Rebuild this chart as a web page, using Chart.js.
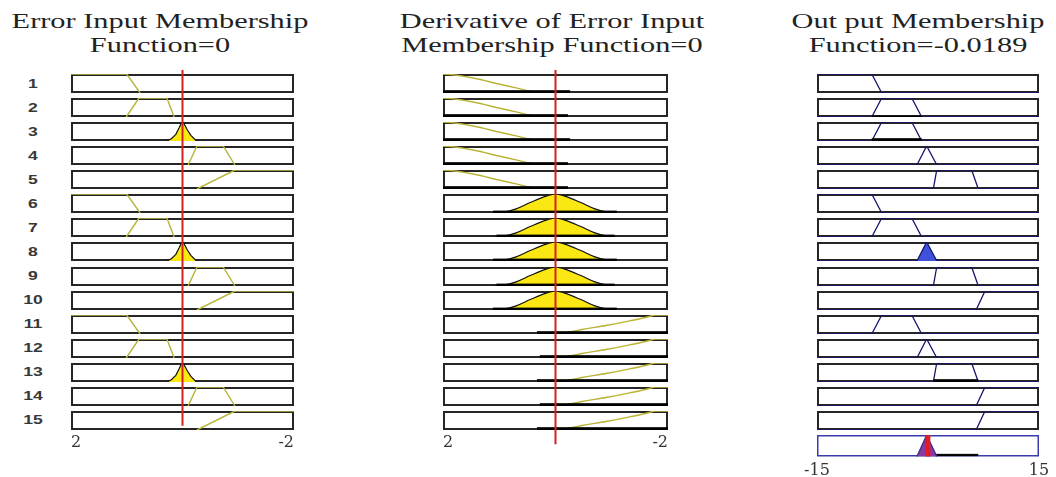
<!DOCTYPE html>
<html>
<head>
<meta charset="utf-8">
<script src="https://cdn.jsdelivr.net/npm/chart.js@4.4.0/dist/chart.umd.min.js"></script>
<style>
  body { margin: 0; background: #fff; width: 1056px; height: 477px; position: relative; overflow: hidden; }
  canvas { position: absolute; }
  .title { position: absolute; width: 400px; text-align: center; font-family: "Liberation Serif", serif;
           font-size: 22px; line-height: 24px; color: #222; transform-origin: center top; transform: scaleX(1.38); }
  .rowlab { position: absolute; width: 30px; text-align: center; font-family: "Liberation Sans", sans-serif;
            font-size: 13px; font-weight: bold; line-height: 14px; color: #383838; transform: scaleX(1.35); }
</style>
</head>
<body>
<div class="title" style="left:-40px;top:9px">Error Input Membership<br>Function=0</div>
<div class="title" style="left:352px;top:9px">Derivative of Error Input<br>Membership Function=0</div>
<div class="title" style="left:718px;top:9px">Out put Membership<br>Function=-0.0189</div>
<script>
// rule numbers
const ruleLabels = ['1','2','3','4','5','6','7','8','9','10','11','12','13','14','15'];

// input 1: error (axis runs 2 .. -2), points are [value, membership]
const errTicks = [2, -2];
const errPB = [[2, 1], [1.0, 1], [0.76, 0]];
const errPS = [[1.01, 0], [0.78, 1], [0.28, 1], [0.15, 0]];
const errZ  = [[0.28, 0], [0.2, 0.12], [0.12, 0.35], [0.06, 0.7], [0.02, 0.95], [-0.02, 0.95], [-0.08, 0.62], [-0.15, 0.3], [-0.25, 0]];
const errNS = [[-0.1, 0], [-0.26, 1], [-0.73, 1], [-0.94, 0]];
const errNB = [[-0.26, 0], [-0.94, 1], [-2, 1]];
const errInput = 0;

// input 2: derivative of error
const dErrTicks = [2, -2];
const dErrP = [[2, 1], [1.82, 0.96], [1.4, 0.75], [1.05, 0.5], [0.7, 0.27], [0.45, 0.1], [0.22, 0]];
const dErrZ = [[1.11, 0], [0.9, 0.06], [0.7, 0.22], [0.45, 0.55], [0.15, 0.9], [0, 1], [-0.15, 0.9], [-0.45, 0.55], [-0.7, 0.22], [-0.9, 0.06], [-1.09, 0]];
const dErrN = [[-0.1, 0.02], [-0.5, 0.25], [-0.9, 0.45], [-1.3, 0.68], [-1.6, 0.87], [-1.8, 1], [-2, 1]];
// low clipped areas along the bottom of each rule: [from, to, height]
const dErrBars = [[2, -0.26, 0.12], [2, -0.22, 0.12], [2, -0.26, 0.12], [2, -0.22, 0.12], [2, -0.22, 0.12],
                  [1.11, -1.09, 0.1], [1.05, -1.05, 0.1], [1.11, -1.09, 0.1], [1.05, -1.05, 0.1], [1.11, -1.09, 0.1],
                  [0.33, -2, 0.12], [0.28, -2, 0.12], [0.33, -2, 0.12], [0.28, -2, 0.12], [0.33, -2, 0.12]];
const dErrInput = 0;

// output
const outTicks = [-15, 15];
const outNB = [[-15, 1], [-7.6, 1], [-6.25, 0], [15, 0]];
const outNS = [[-15, 0], [-7.6, 0], [-6.25, 1], [-2.2, 1], [-0.85, 0], [15, 0]];
const outZ  = [[-15, 0], [-1.5, 0], [-0.18, 1], [1.2, 0], [15, 0]];
const outPS = [[-15, 0], [0.72, 0], [1.18, 1], [5.9, 1], [6.8, 0], [15, 0]];
const outPB = [[-15, 0], [6.5, 0], [7.7, 1], [15, 1]];
const outBars = [null, [-7.6, -0.85, 0.05], [-7.6, -0.85, 0.12], null, null, null, null, null, null, null,
                 null, null, [0.72, 6.8, 0.12], null, null];
const aggShape = [[-1.5, 0], [-0.18, 1], [1.2, 0]];
const aggTail = [0.9, 6.8, 0.1];
const outCrisp = -0.0189;

// rule base
const errRule  = ['PB','PS','Z','NS','NB', 'PB','PS','Z','NS','NB', 'PB','PS','Z','NS','NB'];
const dErrRule = ['P','P','P','P','P', 'Z','Z','Z','Z','Z', 'N','N','N','N','N'];
const outRule  = ['NB','NS','NS','Z','PS', 'NB','NS','Z','PS','PB', 'NS','Z','PS','PB','PB'];
const errFired  = [0,0,1,0,0, 0,0,1,0,0, 0,0,1,0,0];
const dErrFired = [0,0,0,0,0, 1,1,1,1,1, 0,0,0,0,0];
const outFired  = [0,0,0,0,0, 0,0,1,0,0, 0,0,0,0,0];

const errMfs = { PB: errPB, PS: errPS, Z: errZ, NS: errNS, NB: errNB };
const dErrMfs = { P: dErrP, Z: dErrZ, N: dErrN };
const outMfs = { NB: outNB, NS: outNS, Z: outZ, PS: outPS, PB: outPB };

// layout
const rowTop0 = 74, rowPitch = 24.07, boxH = 19;
const cols = { err: { left: 71, width: 223 }, dErr: { left: 443, width: 225 }, out: { left: 817, width: 222 } };
const PAD = 24;
const yellowLine = '#b8b338', yellowFill = '#fbe714', navy = '#16166e', blueFill = '#3f51d9';

// box outline drawn before the curves so mf lines sit on top of it
const framePlugin = {
  id: 'frame',
  beforeDatasetsDraw(chart, args, opts) {
    const a = chart.chartArea, ctx = chart.ctx, w = opts.width || 2;
    ctx.save();
    ctx.strokeStyle = opts.color || '#262626';
    ctx.lineWidth = w;
    ctx.strokeRect(a.left + w / 2, a.top + w / 2, a.width - w, a.height - w);
    ctx.restore();
  }
};

function addChart(left, top, w, h, config) {
  const c = document.createElement('canvas');
  c.width = w; c.height = h;
  c.style.left = left + 'px'; c.style.top = top + 'px';
  c.style.width = w + 'px'; c.style.height = h + 'px';
  document.body.appendChild(c);
  return new Chart(c, config);
}

function mfLine(pts, color, width, extra) {
  return Object.assign({
    data: pts.map(p => ({ x: p[0], y: p[1] })),
    borderColor: color, borderWidth: width, pointRadius: 0, fill: false, tension: 0, clip: 4
  }, extra || {});
}

// black filled strip for a rule that fires only slightly
function lowBar(b) {
  return mfLine([[b[0], b[2]], [b[1], b[2]]], '#000', 1, { fill: 'origin', backgroundColor: '#000' });
}

function rowConfig(datasets, xmin, xmax, reverse, frame, xAxis) {
  return {
    type: 'line',
    data: { datasets },
    options: {
      responsive: false, animation: false, events: [],
      layout: { padding: xAxis ? { left: PAD, right: PAD, top: 0, bottom: 0 } : 0 },
      plugins: { legend: { display: false }, tooltip: { enabled: false }, frame },
      scales: {
        x: xAxis || { type: 'linear', min: xmin, max: xmax, reverse, display: false },
        y: { min: 0, max: 1, display: false }
      }
    },
    plugins: frame ? [framePlugin] : []
  };
}

function tickAxis(min, max, reverse, values, align, pad) {
  return {
    type: 'linear', min, max, reverse, display: true,
    grid: { display: false, drawTicks: false }, border: { display: false },
    afterBuildTicks: s => { s.ticks = values.slice().sort((a, b) => a - b).map(v => ({ value: v })); },
    ticks: { autoSkip: false, maxRotation: 0, padding: pad, align, color: '#333',
             font: { family: 'DejaVu Serif', size: 16 }, callback: v => String(v) }
  };
}

ruleLabels.forEach((lab, i) => {
  const top = rowTop0 + i * rowPitch;

  const d = document.createElement('div');
  d.className = 'rowlab';
  d.textContent = lab;
  d.style.left = '18px';
  d.style.top = (top + boxH / 2 - 7) + 'px';
  document.body.appendChild(d);

  // error input
  const ep = errMfs[errRule[i]];
  const eSet = errFired[i]
    ? [mfLine(ep, '#111', 1.2, { fill: 'origin', backgroundColor: yellowFill })]
    : [mfLine(ep, yellowLine, 1.4)];
  addChart(cols.err.left, top, cols.err.width, boxH, rowConfig(eSet, -2, 2, true, { color: '#262626' }));

  // derivative input
  const dp = dErrMfs[dErrRule[i]];
  const dSet = [lowBar(dErrBars[i])];
  dSet.push(dErrFired[i]
    ? mfLine(dp, '#111', 1.2, { fill: 'origin', backgroundColor: yellowFill, cubicInterpolationMode: 'monotone' })
    : mfLine(dp, yellowLine, 1.4, { cubicInterpolationMode: 'monotone' }));
  addChart(cols.dErr.left, top, cols.dErr.width, boxH, rowConfig(dSet, -2, 2, true, { color: '#262626' }));

  // output
  const op = outMfs[outRule[i]];
  const oSet = [];
  if (outBars[i]) oSet.push(lowBar(outBars[i]));
  oSet.push(outFired[i]
    ? mfLine(op, navy, 1.3, { fill: 'origin', backgroundColor: blueFill })
    : mfLine(op, navy, 1.3));
  addChart(cols.out.left, top, cols.out.width, boxH, rowConfig(oSet, -15, 15, false, { color: '#262626' }));
});

// aggregated output row with its axis
const aggTop = rowTop0 + 15 * rowPitch;
addChart(cols.out.left - PAD, aggTop, cols.out.width + 2 * PAD, 43, rowConfig([
  mfLine([[outCrisp, 0], [outCrisp, 1]], '#e01c24', 5),
  mfLine(aggShape, '#3a2a8a', 1.2, { fill: 'origin', backgroundColor: '#8a3a9e' }),
  lowBar(aggTail)
], -15, 15, false, { color: '#3b3bb0', width: 1.5 }, tickAxis(-15, 15, false, outTicks, 'center', 5)));

// input columns: red input line over all rules plus the axis ticks
function inputOverlay(col, value, ticks, lineBottom) {
  addChart(col.left - PAD, 70, col.width + 2 * PAD, 389, rowConfig([
    mfLine([[value, lineBottom], [value, 1]], '#d42020', 2, { clip: false })
  ], -2, 2, true, null, tickAxis(-2, 2, true, ticks, 'inner', 7)));
}
inputOverlay(cols.err, errInput, errTicks, 0);
inputOverlay(cols.dErr, dErrInput, dErrTicks, -0.052);
</script>
</body>
</html>
